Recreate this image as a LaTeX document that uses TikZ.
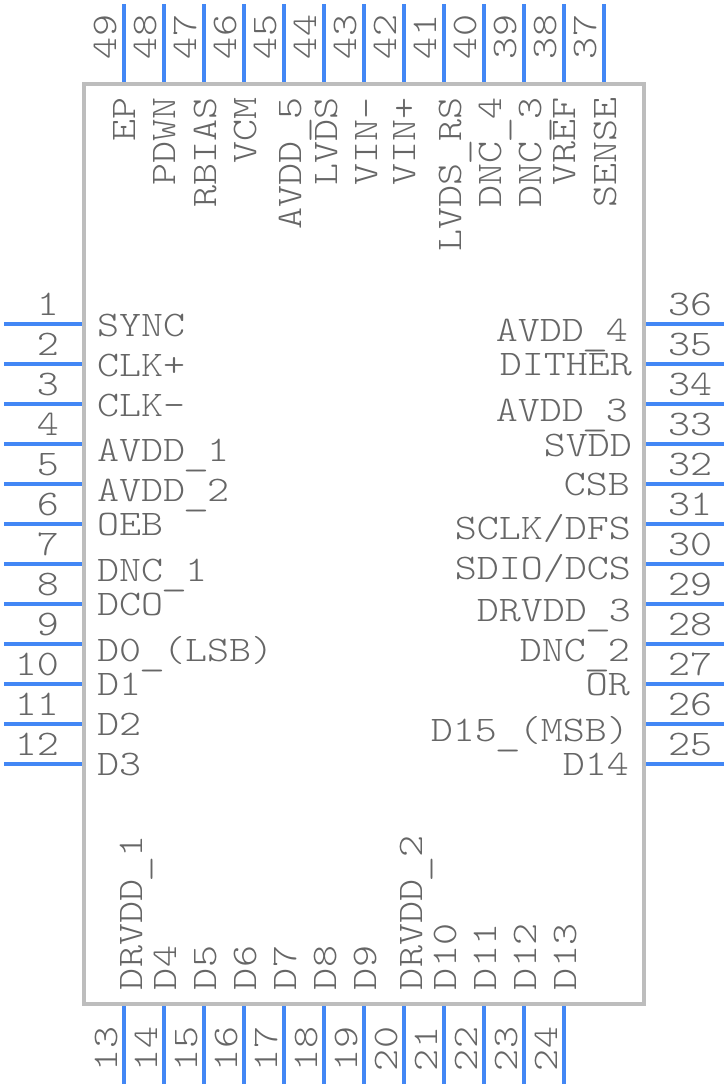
\documentclass[tikz,border=0pt]{standalone}
\usepackage{fontspec}
\newfontfamily\pinfont[FakeStretch=1.165]{Latin Modern Mono Light}
\definecolor{pinblue}{HTML}{4287F5}
\definecolor{bodygray}{HTML}{BDBDBD}
\definecolor{textgray}{HTML}{666666}
\newcommand{\us}{\raisebox{-4.5pt}{\makebox[\fontcharwd\font`\_][c]{\scalebox{1.2}[1]{\_}}}}
\tikzset{
  pinline/.style={draw=pinblue,line width=4pt},
  body/.style={draw=bodygray,line width=4pt},
  txt/.style={text=textgray,inner sep=0pt,outer sep=0pt,font=\pinfont\fontsize{36}{36}\selectfont},
  lefttxt/.style={txt,anchor=base west},
  righttxt/.style={txt,anchor=base east},
  toptxt/.style={txt,anchor=base east,rotate=90},
  bottxt/.style={txt,anchor=base west,rotate=90}
}
\begin{document}
\begin{tikzpicture}[x=1pt,y=-1pt]
\useasboundingbox (0,0) rectangle (728,1088);
\draw[body] (84,84) rectangle (644,1004);
% left pins 1-12
\foreach \n in {1,...,12}{
  \pgfmathtruncatemacro{\py}{284+40*\n}
  \coordinate (pa\n) at (4,\py);
  \coordinate (pb\n) at (82,\py);
  \draw[pinline] (pa\n) -- (pb\n);
  \node[txt,anchor=base east] (num\n) at (59,\py-9) {\n};
}
% bottom pins 13-24
\foreach \n in {13,...,24}{
  \pgfmathtruncatemacro{\px}{124+40*(\n-13)}
  \coordinate (pa\n) at (\px,1006);
  \coordinate (pb\n) at (\px,1084);
  \draw[pinline] (pa\n) -- (pb\n);
  \node[bottxt] (num\n) at (\px-7,1071) {\n};
}
% right pins 25-36
\foreach \n in {25,...,36}{
  \pgfmathtruncatemacro{\py}{764-40*(\n-25)}
  \coordinate (pa\n) at (646,\py);
  \coordinate (pb\n) at (724,\py);
  \draw[pinline] (pa\n) -- (pb\n);
  \node[lefttxt] (num\n) at (668,\py-9) {\n};
}
% top pins 37-49
\foreach \n in {37,...,49}{
  \pgfmathtruncatemacro{\px}{604-40*(\n-37)}
  \coordinate (pa\n) at (\px,4);
  \coordinate (pb\n) at (\px,82);
  \draw[pinline] (pa\n) -- (pb\n);
  \node[bottxt] (num\n) at (\px-8,59) {\n};
}
% left names
\foreach \n/\yy/\t in {1/336/SYNC,2/376/CLK+,3/416/CLK-,4/461/{AVDD\us 1},5/501/{AVDD\us 2},6/535/OEB,
  7/581/{DNC\us 1},8/615/DCO,9/661/{D0\us (LSB)},10/695/D1,11/735/D2,12/775/D3}
  \node[lefttxt] (name\n) at (97,\yy) {\t};
% right names
\foreach \n/\xx/\yy/\t in {36/628/341/{AVDD\us 4},35/632/375/DITHER,34/628/421/{AVDD\us 3},33/632/456/SVDD,
  32/630/495/CSB,31/631/539/{SCLK/DFS},30/631/579/{SDIO/DCS},29/631/621/{DRVDD\us 3},
  28/630/661/{DNC\us 2},27/630/695/OR,26/629/741/{D15\us (MSB)},25/629/775/D14}
  \node[righttxt] (name\n) at (\xx,\yy) {\t};
% top names
\foreach \n/\xx/\t in {49/135/EP,48/175/PDWN,47/216/RBIAS,46/256/VCM,45/301/{AVDD\us 5},44/337/LVDS,
  43/377/VIN-,42/415/VIN+,41/461/{LVDS\us RS},40/501/{DNC\us 4},39/541/{DNC\us 3},38/575/VREF,37/616/SENSE}
  \node[toptxt] (name\n) at (\xx,97) {\t};
% bottom names
\foreach \n/\xx/\t in {13/142/{DRVDD\us 1},14/176/D4,15/216/D5,16/256/D6,17/296/D7,18/336/D8,19/376/D9,
  20/422/{DRVDD\us 2},21/456/D10,22/496/D11,23/536/D12,24/576/D13}
  \node[bottxt] (name\n) at (\xx,990) {\t};
\end{tikzpicture}
\end{document}
